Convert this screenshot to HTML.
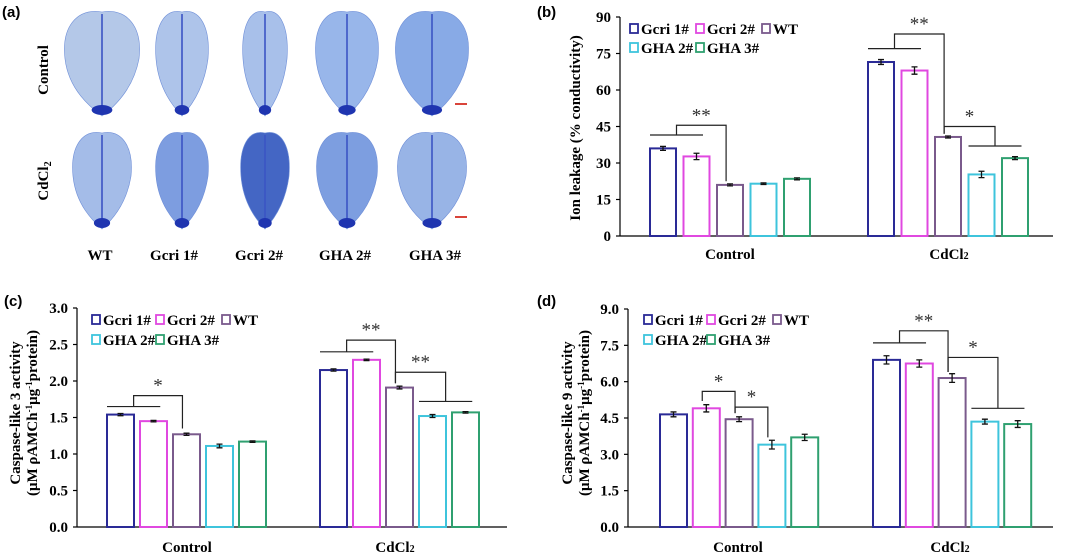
<!DOCTYPE html>
<html><head><meta charset="utf-8">
<style>
html,body{margin:0;padding:0;background:#fff;}
svg{display:block;font-family:"Liberation Serif",serif;}
.pl{font-family:"Liberation Sans",sans-serif;font-weight:bold;font-size:15px;}
</style></head>
<body>
<svg id="fig" width="1080" height="555" viewBox="0 0 1080 555">
  <g id="panelA">
    <text class="pl" x="2" y="17">(a)</text>
    <text x="0" y="0" transform="translate(48,70) rotate(-90)" text-anchor="middle" font-weight="bold" font-size="15">Control</text>
    <text x="0" y="0" transform="translate(48,181) rotate(-90)" text-anchor="middle" font-weight="bold" font-size="15">CdCl<tspan font-size="10" dy="3">2</tspan></text>
    <g id="leaves"></g>
    <line x1="455" y1="104" x2="467" y2="104" stroke="#d9443a" stroke-width="2"/>
    <line x1="455" y1="217" x2="467" y2="217" stroke="#d9443a" stroke-width="2"/>
    <g font-weight="bold" font-size="15" text-anchor="middle">
      <text x="100" y="260">WT</text>
      <text x="174" y="260">Gcri 1#</text>
      <text x="259" y="260">Gcri 2#</text>
      <text x="345" y="260">GHA 2#</text>
      <text x="435" y="260">GHA 3#</text>
    </g>
  </g>
  <g id="chartB"></g>
  <g id="chartC"></g>
  <g id="chartD"></g>
</svg>
<script>
// ---- shared ----
const seriesNames = ["Gcri 1#","Gcri 2#","WT","GHA 2#","GHA 3#"];
const seriesColors = ["#2a2a96","#e048e0","#7a5a8c","#3ec4dc","#2fa070"];
const groups = ["Control","CdCl2"];

// ---- panel b: ion leakage ----
const bTicks = [0,15,30,45,60,75,90];
const bControl = [36.0,32.7,21.0,21.5,23.5];
const bCdCl2 = [71.5,68.0,40.7,25.3,32.0];
const bControlErr = [0.8,1.3,0.4,0.3,0.4];
const bCdCl2Err = [1.0,1.5,0.4,1.3,0.6];

// ---- panel c: caspase-like 3 ----
const cTicks = [0.0,0.5,1.0,1.5,2.0,2.5,3.0];
const cControl = [1.54,1.45,1.27,1.11,1.17];
const cCdCl2 = [2.15,2.29,1.91,1.52,1.57];
const cControlErr = [0.015,0.01,0.015,0.025,0.01];
const cCdCl2Err = [0.015,0.01,0.02,0.02,0.01];

// ---- panel d: caspase-like 9 ----
const dTicks = [0.0,1.5,3.0,4.5,6.0,7.5,9.0];
const dControl = [4.65,4.9,4.45,3.4,3.7];
const dCdCl2 = [6.9,6.75,6.15,4.35,4.25];
const dControlErr = [0.1,0.15,0.1,0.18,0.13];
const dCdCl2Err = [0.17,0.15,0.18,0.1,0.14];

const NS = "http://www.w3.org/2000/svg";
function mk(parent, tag, attrs){
  const e = document.createElementNS(NS, tag);
  for (const k in attrs) e.setAttribute(k, attrs[k]);
  parent.appendChild(e);
  return e;
}

// leaves
(function(){
  const g = document.getElementById("leaves");
  const cols = [102,182,265,347,432];
  const rows = [{top:12,h:104},{top:133,h:96}];
  const fills = [["#b4c8e8","#aec4ea","#a8c0ea","#98b6ea","#88aae6"],["#a4bce8","#7d9de0","#4466c4","#7d9ee0","#98b4e6"]];
  const widths = [[74,52,44,62,72],[58,52,48,60,68]];
  for (let r=0;r<2;r++){
    for (let i=0;i<5;i++){
      const cx=cols[i], t=rows[r].top, h=rows[r].h, w=widths[r][i];
      const d = `M${cx},${t} C${cx+w*0.35},${t-4} ${cx+w*0.55},${t+h*0.15} ${cx+w*0.5},${t+h*0.45} C${cx+w*0.42},${t+h*0.75} ${cx+w*0.15},${t+h*0.92} ${cx},${t+h} C${cx-w*0.15},${t+h*0.92} ${cx-w*0.45},${t+h*0.75} ${cx-w*0.5},${t+h*0.45} C${cx-w*0.55},${t+h*0.15} ${cx-w*0.35},${t-4} ${cx},${t} Z`;
      const p = mk(g,"path",{d:d,fill:fills[r][i],stroke:"#6f8fd8","stroke-width":0.6});
      
      
      const m = mk(g,"path",{d:`M${cx},${t+2} L${cx},${t+h-4}`,stroke:"#3b54c4","stroke-width":1.6,fill:"none"});
      
      
      const tip = mk(g,"ellipse",{cx:cx,cy:t+h-6,rx:w*0.14,ry:5,fill:"#1f35b0"});
      
      
    }
  }
})();

function drawChart(cfg){
  const g = document.getElementById(cfg.id);
  const y = v => cfg.y0 - (v - cfg.ticks[0])/(cfg.ticks[cfg.ticks.length-1]-cfg.ticks[0])*(cfg.y0-cfg.yTop);
  const barX = (gi, si) => cfg.groupStart[gi] + si*cfg.step;
  const lbl = mk(g,"text",{x:cfg.labelX,y:cfg.labelY,"class":"pl"});
  lbl.textContent = cfg.label;
  
  
  const ya = mk(g,"line",{x1:cfg.ax,y1:cfg.yTop,x2:cfg.ax,y2:cfg.y0,stroke:"#000","stroke-width":1.2});
  
  
  const xa = mk(g,"line",{x1:cfg.ax,y1:cfg.y0,x2:cfg.axEnd,y2:cfg.y0,stroke:"#000","stroke-width":1.2});
  
  
  cfg.ticks.forEach(t=>{
    const tk = mk(g,"line",{x1:cfg.ax-4,y1:y(t),x2:cfg.ax,y2:y(t),stroke:"#000","stroke-width":1.2});
    
    
    const tl = mk(g,"text",{x:cfg.ax-9,y:y(t)+5,"text-anchor":"end","font-weight":"bold","font-size":15});
    tl.textContent = cfg.fmt(t);
    
    
  });
  const yt = mk(g,"text",{transform:`translate(${cfg.titleX},${cfg.titleY}) rotate(-90)`,"text-anchor":"middle","font-weight":"bold","font-size":15});
  cfg.title.forEach((line,i)=>{
    const ts = mk(yt,"tspan",{x:0,dy:i===0?0:17});
    ts.innerHTML = line;
  });
  
  
  [cfg.ctrl,cfg.cd].forEach((vals,gi)=>{
    const errs = gi===0?cfg.ctrlErr:cfg.cdErr;
    vals.forEach((v,si)=>{
      const x = barX(gi,si);
      const r = mk(g,"rect",{x:x,y:y(v),width:cfg.bw,height:cfg.y0-y(v),fill:"#fff",stroke:seriesColors[si],"stroke-width":2});
      
      
      const cx = x+cfg.bw/2, e=errs[si];
      const eb = mk(g,"path",{d:`M${cx},${y(v+e)} V${y(v-e)} M${cx-3},${y(v+e)} H${cx+3} M${cx-3},${y(v-e)} H${cx+3}`,stroke:"#111","stroke-width":1.3,fill:"none"});
      
      
    });
    const cl = mk(g,"text",{x:cfg.catX[gi],y:cfg.catY,"text-anchor":"middle","font-weight":"bold","font-size":15});
    cl.innerHTML = gi===0 ? "Control" : 'CdCl<tspan font-size="10">2</tspan>';
    
    
  });
  seriesNames.forEach((n,si)=>{
    const p = cfg.legend[si];
    const sq = mk(g,"rect",{x:p[0],y:p[1]-10,width:8,height:9,fill:"#fff",stroke:seriesColors[si],"stroke-width":1.8});
    
    
    const t = mk(g,"text",{x:p[0]+11,y:p[1],"font-weight":"bold","font-size":15});
    t.textContent = n;
    
    
  });
  cfg.sig.forEach(s=>{
    const endPt = e => {
      if (e[1]===e[2]) { return {x: barX(e[0],e[1])+cfg.bw*0.35, y:y(e[3]), line:null}; }
      const x1 = barX(e[0],e[1]), x2 = barX(e[0],e[2])+cfg.bw*0.75;
      return {x:(x1+x2)/2, y:y(e[3]), line:[x1,x2]};
    };
    const a = endPt(s.a), b = endPt(s.b), ty=y(s.top);
    let d = `M${a.x},${a.y} V${ty} H${b.x} V${b.y}`;
    if (a.line) d += ` M${a.line[0]},${a.y} H${a.line[1]}`;
    if (b.line) d += ` M${b.line[0]},${b.y} H${b.line[1]}`;
    const br = mk(g,"path",{d:d,stroke:"#222","stroke-width":1.2,fill:"none"});
    
    
    const st = mk(g,"text",{x:(a.x+b.x)/2,y:ty-4,"text-anchor":"middle","font-size":19,fill:"#333"});
    st.textContent = s.label;
    
    
  });
}

drawChart({id:"chartB",label:"(b)",labelX:537,labelY:17,ax:620,axEnd:1053,yTop:17,y0:236,ticks:bTicks,
  fmt:t=>String(t),ctrl:bControl,cd:bCdCl2,ctrlErr:bControlErr,cdErr:bCdCl2Err,
  groupStart:[650,868],step:33.5,bw:26,catX:[730,949],catY:259,
  titleX:580,titleY:128,title:["Ion leakage (% conductivity)"],
  legend:[[630,34],[696,34],[762,34],[630,53],[696,53]],
  sig:[{a:[0,0,1,41.5],b:[0,2,2,22.5],top:45.5,label:"**"},
       {a:[1,0,1,77],b:[1,2,2,42],top:83,label:"**"},
       {a:[1,2,2,42],b:[1,3,4,37],top:45,label:"*"}]});

drawChart({id:"chartC",label:"(c)",labelX:4,labelY:306,ax:77,axEnd:507,yTop:308,y0:527,ticks:cTicks,
  fmt:t=>t.toFixed(1),ctrl:cControl,cd:cCdCl2,ctrlErr:cControlErr,cdErr:cCdCl2Err,
  groupStart:[107,320],step:33,bw:27,catX:[187,395],catY:552,
  titleX:20,titleY:413,title:["Caspase-like 3 activity","(μM ρAMCh<tspan font-size='9' dy='-5'>-1</tspan><tspan dy='5'>μg</tspan><tspan font-size='9' dy='-5'>-1</tspan><tspan dy='5'>protein)</tspan>"],
  legend:[[92,325],[156,325],[222,325],[92,345],[156,345]],
  sig:[{a:[0,0,1,1.65],b:[0,2,2,1.35],top:1.8,label:"*"},
       {a:[1,0,1,2.4],b:[1,2,2,1.97],top:2.56,label:"**"},
       {a:[1,2,2,1.97],b:[1,3,4,1.72],top:2.12,label:"**"}]});

drawChart({id:"chartD",label:"(d)",labelX:537,labelY:306,ax:628,axEnd:1053,yTop:309,y0:527,ticks:dTicks,
  fmt:t=>t.toFixed(1),ctrl:dControl,cd:dCdCl2,ctrlErr:dControlErr,cdErr:dCdCl2Err,
  groupStart:[660,873],step:32.8,bw:27,catX:[738,950],catY:552,
  titleX:572,titleY:413,title:["Caspase-like 9 activity","(μM ρAMCh<tspan font-size='9' dy='-5'>-1</tspan><tspan dy='5'>μg</tspan><tspan font-size='9' dy='-5'>-1</tspan><tspan dy='5'>protein)</tspan>"],
  legend:[[644,325],[707,325],[773,325],[644,345],[707,345]],
  sig:[{a:[0,1,1,5.2],b:[0,2,2,4.7],top:5.6,label:"*"},
       {a:[0,2,2,4.7],b:[0,3,3,3.7],top:4.95,label:"*"},
       {a:[1,0,1,7.6],b:[1,2,2,6.4],top:8.1,label:"**"},
       {a:[1,2,2,6.4],b:[1,3,4,4.9],top:7.0,label:"*"}]});
</script>
</body></html>
